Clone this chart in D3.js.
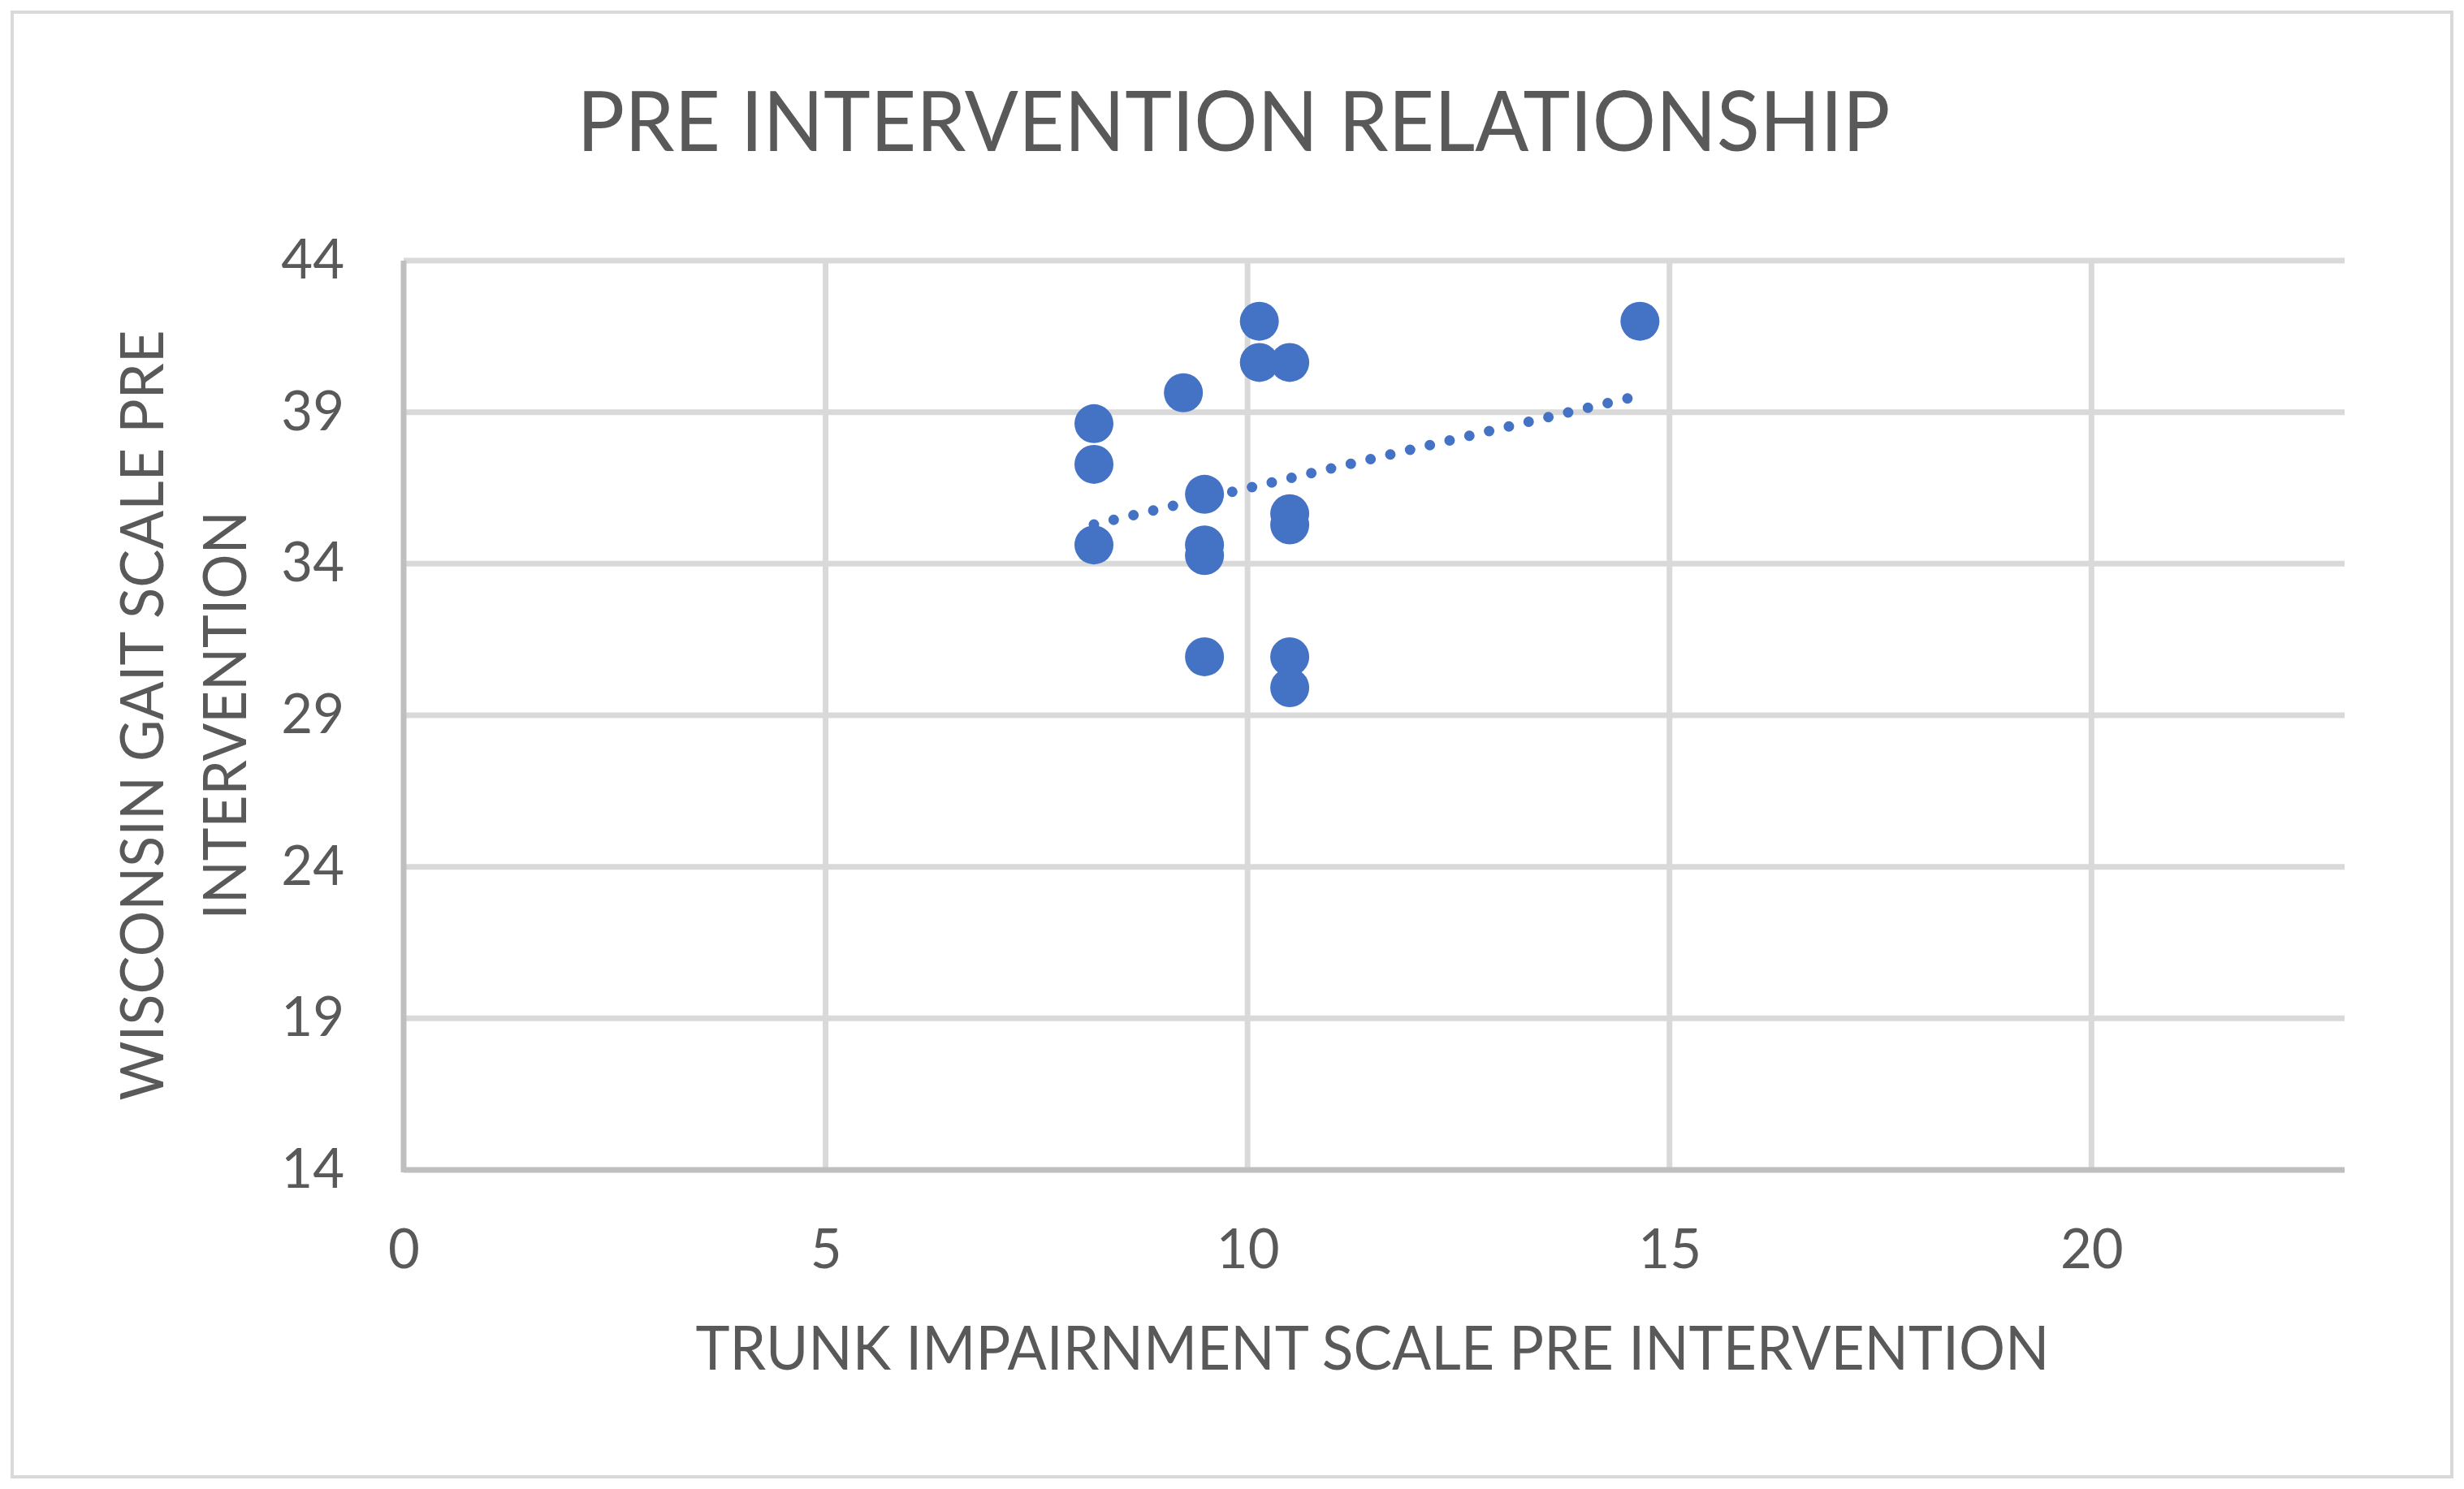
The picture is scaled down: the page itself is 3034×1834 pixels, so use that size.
<!DOCTYPE html>
<html>
<head>
<meta charset="utf-8">
<script src="https://cdn.jsdelivr.net/npm/d3@7"></script>
<style>
  body { margin: 0; background: #fff; }
  text { font-family: Lato, "Open Sans", sans-serif; fill: #595959; }
</style>
</head>
<body>
<svg id="chart" width="3034" height="1834"></svg>
<script>
// trunk impairment scale (x) vs wisconsin gait scale (y)
const trunkPre = [8.18, 8.18, 8.18, 9.24, 9.49, 9.49, 9.49, 9.49, 10.14, 10.14, 10.5, 10.5, 10.5, 10.5, 10.5, 14.65];
const gaitPre  = [38.62, 37.28, 34.62, 39.64, 36.29, 34.62, 34.27, 30.93, 42.0, 40.64, 40.64, 35.65, 35.28, 30.93, 29.91, 42.0];

const xTicks = [0, 5, 10, 15, 20];
const yTicks = [14, 19, 24, 29, 34, 39, 44];

const title = "PRE INTERVENTION RELATIONSHIP";
const xTitle = "TRUNK IMPAIRNMENT SCALE PRE INTERVENTION";
const yTitle = ["WISCONSIN GAIT SCALE PRE", "INTERVENTION"];

const box = { left: 497, top: 321, right: 2887, bottom: 1441 };
const blue = "#4472C4";

const svg = d3.select("#chart");

// chart area border
svg.append("rect")
  .attr("x", 15).attr("y", 15).attr("width", 3004).attr("height", 1804)
  .style("fill", "white").style("stroke", "#d9d9d9").style("stroke-width", 4);

const x = d3.scaleLinear().domain([0, 23]).range([box.left, box.right]);
const y = d3.scaleLinear().domain([14, 44]).range([box.bottom, box.top]);

const g = svg.append("g");

// gridlines
g.selectAll(".hgrid")
  .data(yTicks.filter(d => d !== 14))
  .enter().append("line")
  .attr("x1", box.left).attr("x2", box.right)
  .attr("y1", d => y(d)).attr("y2", d => y(d))
  .style("stroke", "#d9d9d9").style("stroke-width", 7);

g.selectAll(".vgrid")
  .data(xTicks.filter(d => d !== 0))
  .enter().append("line")
  .attr("x1", d => x(d)).attr("x2", d => x(d))
  .attr("y1", box.top).attr("y2", box.bottom)
  .style("stroke", "#d9d9d9").style("stroke-width", 7);

// axis lines
g.append("line")
  .attr("x1", box.left).attr("x2", box.left)
  .attr("y1", box.top).attr("y2", box.bottom + 3)
  .style("stroke", "#bfbfbf").style("stroke-width", 7);
g.append("line")
  .attr("x1", box.left).attr("x2", box.right)
  .attr("y1", box.bottom).attr("y2", box.bottom)
  .style("stroke", "#bfbfbf").style("stroke-width", 7);

// tick labels
const xAxis = g.append("g")
  .attr("transform", `translate(0,${box.bottom})`)
  .call(d3.axisBottom(x).tickValues(xTicks).tickSize(0).tickPadding(73));
xAxis.select(".domain").remove();

const yAxis = g.append("g")
  .attr("transform", `translate(${box.left},0)`)
  .call(d3.axisLeft(y).tickValues(yTicks).tickSize(0).tickPadding(73));
yAxis.select(".domain").remove();

g.selectAll(".tick text")
  .attr("font-family", null).attr("fill", null)
  .style("font-size", "67px");

// points
const pts = trunkPre.map((v, i) => ({ x: v, y: gaitPre[i] }));

g.selectAll(".dot")
  .data(pts)
  .enter().append("circle")
  .attr("cx", d => x(d.x))
  .attr("cy", d => y(d.y))
  .attr("r", 24)
  .style("fill", blue);

// linear trendline (least squares)
const mx = d3.mean(trunkPre), my = d3.mean(gaitPre);
const sxy = d3.sum(pts, d => (d.x - mx) * (d.y - my));
const sxx = d3.sum(pts, d => (d.x - mx) * (d.x - mx));
const slope = sxy / sxx, icept = my - slope * mx;
const [x0, x1] = d3.extent(trunkPre);

g.append("line")
  .attr("x1", x(x0)).attr("y1", y(icept + slope * x0))
  .attr("x2", x(x1)).attr("y2", y(icept + slope * x1))
  .style("stroke", blue).style("stroke-width", 13)
  .style("stroke-linecap", "round")
  .style("stroke-dasharray", "0 25");

// titles
svg.append("text")
  .attr("x", 1519).attr("y", 186)
  .attr("text-anchor", "middle")
  .attr("textLength", 1617).attr("lengthAdjust", "spacingAndGlyphs")
  .style("font-size", "103px")
  .text(title);

svg.append("text")
  .attr("x", 1690).attr("y", 1687)
  .attr("text-anchor", "middle")
  .attr("textLength", 1667).attr("lengthAdjust", "spacingAndGlyphs")
  .style("font-size", "75px")
  .text(xTitle);

const yLens = [949, 503];
const yBase = [201, 303];
yTitle.forEach((t, i) => {
  svg.append("text")
    .attr("transform", `translate(${yBase[i]},881) rotate(-90)`)
    .attr("text-anchor", "middle")
    .attr("textLength", yLens[i]).attr("lengthAdjust", "spacingAndGlyphs")
    .style("font-size", "74px")
    .text(t);
});
</script>
</body>
</html>
